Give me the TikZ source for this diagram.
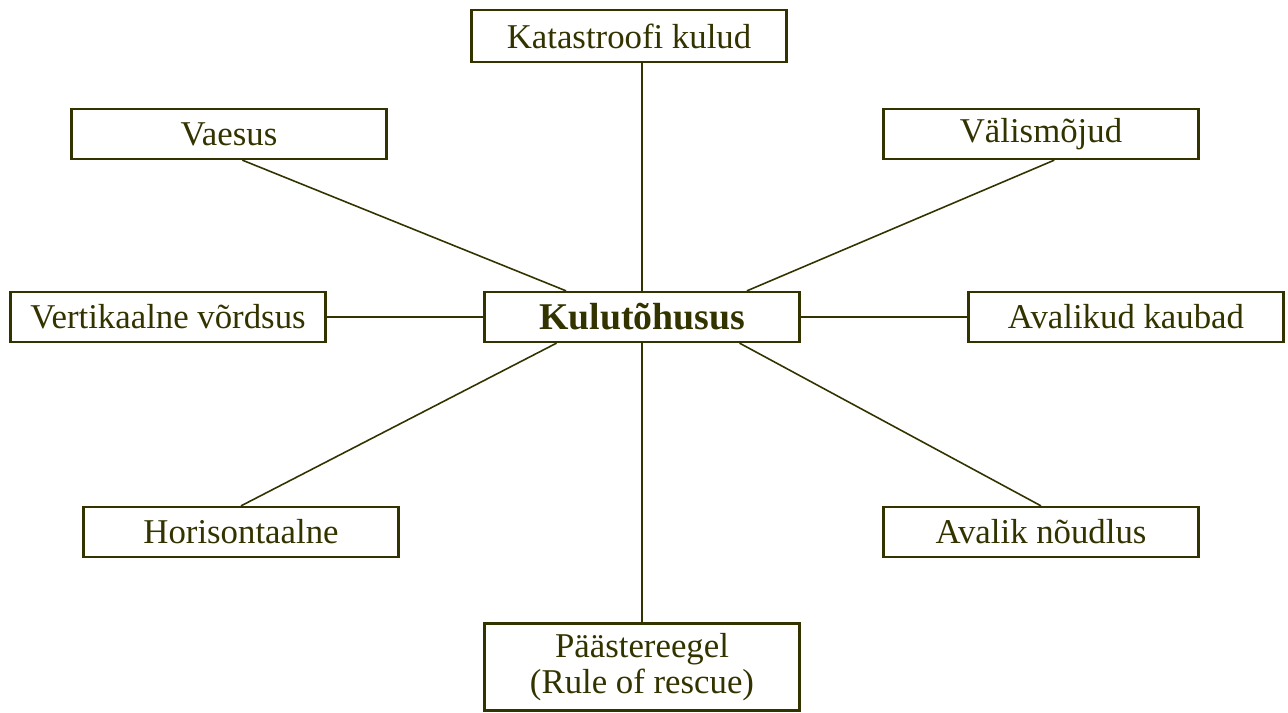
\documentclass[tikz,border=0pt]{standalone}
\usepackage{fontspec}
\setmainfont{Liberation Serif}
\definecolor{olivedark}{RGB}{51,51,0}
\tikzset{
	box/.style={draw=olivedark,line width=1.3pt,text=olivedark,minimum width=6.3cm,minimum height=1cm,inner sep=0pt,font=\fontsize{19.8}{20.5}\selectfont,align=center},
	link/.style={draw=olivedark,line width=0.9pt}
}
\begin{document}
\begin{tikzpicture}[x=0.02cm,y=-0.02cm]
		\useasboundingbox (0,0) rectangle (1288,713);
		\node[box,font=\fontsize{21.5}{22}\selectfont\bfseries] (kulu) at (642,317) {Kulutõhusus};
		\node[box,minimum height=1.04cm] (katastroof) at (629,36) {Katastroofi kulud};
		\node[box] (vaesus) at (229,134) {Vaesus};
		\node[box] (valis) at (1041,134) {Välismõjud};
		\node[box] (vertikaal) at (168,317) {Vertikaalne võrdsus};
		\node[box] (kaubad) at (1126,317) {Avalikud kaubad};
		\node[box] (horisont) at (241,532) {Horisontaalne};
		\node[box] (noudlus) at (1041,532) {Avalik nõudlus};
		\node[box,minimum height=1.74cm] (paaste) at (642,667) {Päästereegel\\(Rule of rescue)};
		\draw[link] (katastroof.south -| kulu.north) -- (kulu.north);
		\draw[link] (vaesus.297) -- (kulu.161);
		\draw[link] (valis.297) -- (kulu.14);
		\draw[link] (vertikaal.east) -- (kulu.west);
		\draw[link] (kulu.east) -- (kaubad.west);
		\draw[link] (horisont.north) -- (kulu.197);
		\draw[link] (noudlus.north) -- (kulu.345);
		\draw[link] (kulu.south) -- (paaste.north);
	\end{tikzpicture}
\end{document}
